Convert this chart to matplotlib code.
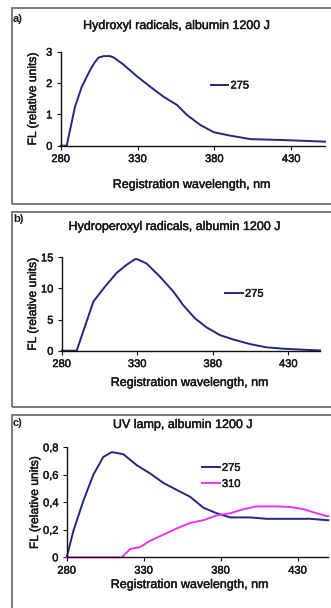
import matplotlib
matplotlib.use("Agg")
import matplotlib.pyplot as plt
import matplotlib.patheffects as pe
from matplotlib.patches import Rectangle

plt.rcParams['font.family'] = ['Liberation Sans', 'DejaVu Sans']

# ---- data ----
wl_a = [280, 283.9, 289.3, 293.7, 299.1, 302, 304.6, 308, 312, 314.3, 319.8, 330, 338.3, 347, 355.7,
        362.2, 370.9, 379.6, 390.4, 403.5, 425.2, 451.3, 452]
fl_a = [0, 0, 1.24, 1.88, 2.41, 2.65, 2.81, 2.86, 2.86, 2.82, 2.63, 2.2, 1.88, 1.56, 1.3,
        0.98, 0.66, 0.43, 0.32, 0.21, 0.18, 0.13, 0.13]

wl_b = [280, 289.9, 301, 308.7, 316.4, 323, 328.5, 330, 336.2, 345, 353.9, 360.5, 368.2, 375.9,
        384.8, 393.6, 404.6, 415.6, 426.7, 439.9, 449.8, 451]
fl_b = [0, 0, 7.9, 10.3, 12.5, 13.8, 14.7, 14.7, 14.0, 11.9, 9.5, 7.3, 5.2, 3.75,
        2.5, 1.8, 1.07, 0.54, 0.32, 0.16, 0.05, 0.05]

wl_c275 = [280, 284.3, 290.8, 297.3, 303.8, 309.3, 312, 316.8, 325.5, 334.2, 342.9, 351.5, 360.2,
           368.9, 377.5, 386.2, 399.2, 410, 425.2, 438.2, 449, 450]
fl_c275 = [0.0, 0.19, 0.41, 0.6, 0.73, 0.765, 0.76, 0.75, 0.67, 0.61, 0.54, 0.49, 0.44,
           0.36, 0.32, 0.29, 0.29, 0.28, 0.28, 0.28, 0.27, 0.27]

wl_c310 = [280, 315.8, 321.2, 327.7, 334.2, 342.9, 351.5, 360.2, 368.9, 377.5, 386.2, 394.9,
           403.5, 416.5, 425.2, 433.9, 442.5, 449, 450]
fl_c310 = [0, 0, 0.06, 0.075, 0.12, 0.165, 0.21, 0.25, 0.27, 0.305, 0.32, 0.35,
           0.37, 0.37, 0.366, 0.35, 0.32, 0.30, 0.30]

x_ticks = [280, 330, 380, 430]
yticks_a = [0, 1, 2, 3]
yticks_b = [0, 5, 10, 15]
yticks_c = [0, 0.2, 0.4, 0.6, 0.8]
yticklabels_c = ['0', '0,2', '0,4', '0,6', '0,8']

titles = ['Hydroxyl radicals, albumin 1200 J', 'Hydroperoxyl radicals, albumin 1200 J',
          'UV lamp, albumin 1200 J']
xlabels = ['Registration wavelength, nm', 'Registration wavelength, nm',
           'Registration wavelength, nm']
panel_tags = ['a)', 'b)', 'c)']

NAVY = '#25257c'
MAGENTA = '#ee33ee'
TXT = '#151515'
thick = [pe.withStroke(linewidth=0.3, foreground=TXT)]

W, H = 331, 608
fig = plt.figure(figsize=(W / 100, H / 100), dpi=100)


def fx(px):
    return px / W


def fy(py):
    return 1 - py / H


# frames (px: left, top, bottom)
frames = [(11.7, 8, 204), (11.7, 211.7, 407), (11.7, 415, 620)]
for (l, t, b) in frames:
    r = Rectangle((fx(l), fy(b)), fx(345 - l), fy(t) - fy(b), transform=fig.transFigure,
                  fill=False, edgecolor='#6e6e6e', linewidth=1.3, clip_on=False)
    fig.patches.append(r)

# axes positions (px): left, top, right, bottom
ax_px = [(60.7, 51.7, 325, 145.7), (61.7, 257.3, 320, 350.7), (66.7, 447.3, 328.3, 557.3)]
xlims = [(280, 452), (280, 451), (280, 450)]
ylims = [(0, 3), (0, 15), (0, 0.8)]
yticks = [yticks_a, yticks_b, yticks_c]
ytl = [[str(v) for v in yticks_a], [str(v) for v in yticks_b], yticklabels_c]
xlabel_y = [185, 383, 585]      # px centers
xlabel_x = [192, 190, 190]
ylabel_x = [33, 33, 35]         # px centers

axes = []
for i, (l, t, r, b) in enumerate(ax_px):
    ax = fig.add_axes([fx(l), fy(b), fx(r - l), fy(t) - fy(b)])
    ax.set_facecolor('none')
    for s in ['top', 'right']:
        ax.spines[s].set_visible(False)
    for s in ['left', 'bottom']:
        ax.spines[s].set_linewidth(1.0)
        ax.spines[s].set_color('#111111')
    ax.set_xlim(*xlims[i])
    ax.set_ylim(*ylims[i])
    ax.set_xticks(x_ticks)
    ax.set_xticklabels([str(v) for v in x_ticks])
    ax.set_yticks(yticks[i])
    ax.set_yticklabels(ytl[i])
    ax.tick_params(axis='both', length=3, width=0.8, labelsize=8, pad=3, colors=TXT)
    for lab in ax.get_xticklabels() + ax.get_yticklabels():
        lab.set_path_effects(thick)
    fig.text(fx(xlabel_x[i]), fy(xlabel_y[i]), xlabels[i], ha='center', va='center',
             fontsize=9, color=TXT, path_effects=thick)
    fig.text(fx(ylabel_x[i]), fy((t + b) / 2), 'FL (relative units)', ha='center', va='center',
             rotation=90, fontsize=8.7, color=TXT, path_effects=thick)
    axes.append(ax)

ax_a, ax_b, ax_c = axes
la, = ax_a.plot(wl_a, fl_a, color=NAVY, lw=1.4, clip_on=False)
lb, = ax_b.plot(wl_b, fl_b, color=NAVY, lw=1.4, clip_on=False)
lc1, = ax_c.plot(wl_c275, fl_c275, color=NAVY, lw=1.4, clip_on=False)
lc2, = ax_c.plot(wl_c310, fl_c310, color=MAGENTA, lw=1.4, clip_on=False)

leg_kw = dict(frameon=False, fontsize=8, handlelength=1.6, handletextpad=0.2,
              borderaxespad=0, labelspacing=0.55)
legs = [
    ax_a.legend([la], ['275'], loc='center left', bbox_to_anchor=(0.55, 0.64), **leg_kw),
    ax_b.legend([lb], ['275'], loc='center left', bbox_to_anchor=(0.615, 0.61), **leg_kw),
    ax_c.legend([lc1, lc2], ['275', '310'], loc='center left', bbox_to_anchor=(0.50, 0.74), **leg_kw),
]
for lg in legs:
    for t in lg.get_texts():
        t.set_color(TXT)
        t.set_path_effects(thick)

# titles and panel tags (px positions)
title_pos = [(177, 26), (175, 227), (183, 425)]
tag_pos = [(13, 19), (13, 219), (13, 423)]
for i in range(3):
    fig.text(fx(title_pos[i][0]), fy(title_pos[i][1]), titles[i], ha='center', va='center',
             fontsize=9, color=TXT, path_effects=thick)
    fig.text(fx(tag_pos[i][0]), fy(tag_pos[i][1]), panel_tags[i], ha='left', va='center',
             fontsize=8, fontweight='bold', color=TXT)

fig.savefig('out.png', dpi=100)
